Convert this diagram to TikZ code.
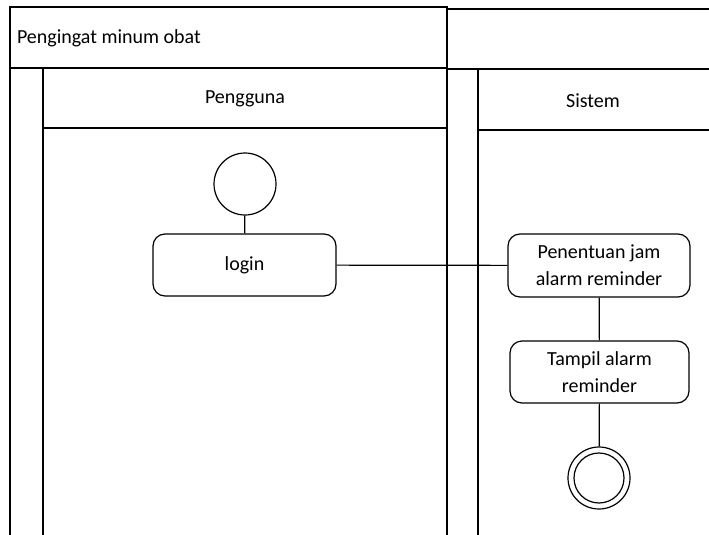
\documentclass[tikz,border=0pt]{standalone}
\usepackage{fontspec}
\setmainfont{Carlito}
\begin{document}
\begin{tikzpicture}[x=1pt,y=-1pt,
  every node/.style={font=\fontsize{20}{27}\selectfont},
  frame/.style={draw=black,line width=1.2pt},
  act/.style={draw=black,line width=1.2pt,rounded corners=12pt,align=center,inner sep=0pt},
  startnode/.style={draw=black,line width=1.2pt,circle,minimum size=62pt,inner sep=0pt},
  flow/.style={draw=black,line width=1.2pt}]
\useasboundingbox (0,0) rectangle (709,535);

% swimlane frame
\draw[frame] (10,7) rectangle (447,68);
\draw[frame] (447,9) -- (712,9);
\draw[frame] (447,69) -- (712,69);
\draw[frame] (10,68) -- (10,540);
\draw[frame] (43,68) -- (43,540);
\draw[frame] (447,7) -- (447,540);
\draw[frame] (43,128) -- (447,128);
\draw[frame] (478,69) -- (478,540);
\draw[frame] (478,130) -- (712,130);

\node[anchor=west] (title) at (13.5,38) {Pengingat minum obat};
\node (lane1) at (245,99) {Pengguna};
\node (lane2) at (593,101) {Sistem};

% activities
\node[startnode] (start) at (245,184) {};
\node[act,minimum width=183pt,minimum height=62pt] (login) at (244.5,265) {login};
\node[act,minimum width=182pt,minimum height=63pt] (jam) at (599,265.5) {Penentuan jam\\alarm reminder};
\node[act,minimum width=179pt,minimum height=62pt] (tampil) at (599.5,372) {Tampil alarm\\reminder};
\node[startnode] (stop) at (599,478) {};
\node[draw=black,line width=1.2pt,circle,minimum size=50pt,inner sep=0pt] (stopin) at (stop) {};

% connectors
\draw[flow] (start) -- (login);
\draw[flow] (login) -- (jam);
\draw[flow] (jam) -- (tampil);
\draw[flow] (tampil) -- (stop);
\end{tikzpicture}
\end{document}
